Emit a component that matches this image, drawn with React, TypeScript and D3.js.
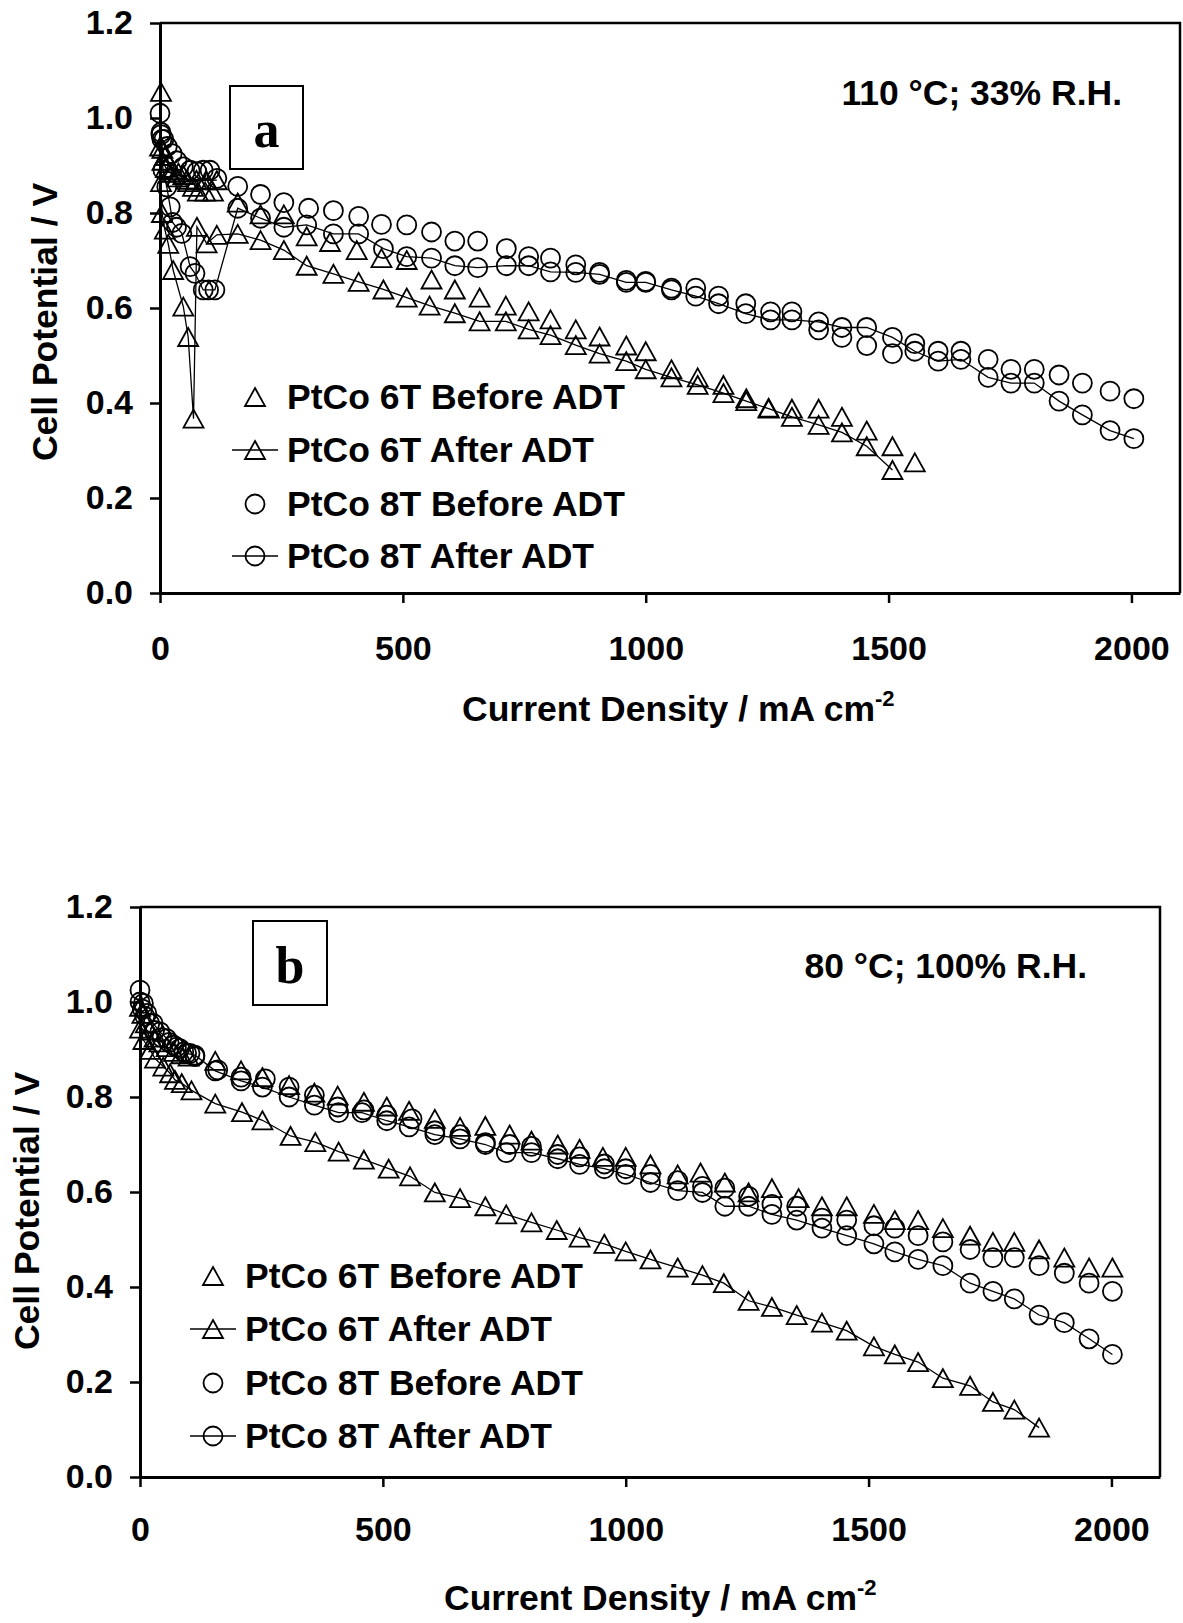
import * as d3 from 'd3'
import { useEffect, useRef } from 'react'

// [current density mA cm-2, cell potential V]
// panel a: 110 °C, 33% RH
const a6Before = [
  [2, 1.055], [5, 0.935], [10, 0.92], [18, 0.905], [27, 0.89], [38, 0.885], [48, 0.88], [58, 0.865], [68, 0.855], [78, 0.845], [93, 0.845], [109, 0.845],
  [160, 0.822], [207, 0.797], [255, 0.797], [302, 0.751], [350, 0.739], [405, 0.722], [456, 0.705], [508, 0.701], [559, 0.66], [607, 0.639],
  [658, 0.622], [712, 0.605], [759, 0.593], [804, 0.576], [856, 0.555], [905, 0.54], [960, 0.521], [1000, 0.509], [1053, 0.471], [1107, 0.454],
  [1160, 0.438], [1207, 0.41], [1253, 0.39], [1301, 0.388], [1356, 0.388], [1404, 0.371], [1455, 0.342], [1508, 0.309], [1554, 0.275],
]
const a6After = [
  [0, 0.94], [5, 0.91], [12, 0.895], [20, 0.885], [35, 0.875], [55, 0.87], [75, 0.87], [95, 0.869], [117, 0.869],
  [2, 0.865], [4, 0.8], [10, 0.765], [17, 0.735], [27, 0.68], [48, 0.603], [58, 0.539], [69, 0.367], [76, 0.771], [96, 0.736], [117, 0.754],
  [160, 0.756], [207, 0.743], [255, 0.722], [302, 0.689], [357, 0.672], [409, 0.655], [460, 0.639], [508, 0.622], [555, 0.605], [607, 0.589],
  [658, 0.572], [712, 0.572], [759, 0.555], [804, 0.543], [856, 0.522], [905, 0.504], [960, 0.488], [1000, 0.471], [1053, 0.454], [1107, 0.438],
  [1160, 0.421], [1207, 0.404], [1253, 0.388], [1301, 0.371], [1356, 0.354], [1404, 0.338], [1455, 0.309], [1508, 0.259],
]
const a8Before = [
  [2, 0.97], [8, 0.955], [15, 0.94], [25, 0.925], [35, 0.91], [48, 0.897], [62, 0.89], [76, 0.887], [89, 0.89], [103, 0.89], [117, 0.873],
  [160, 0.856], [207, 0.839], [255, 0.822], [306, 0.81], [357, 0.805], [409, 0.793], [456, 0.776], [508, 0.775], [559, 0.76], [607, 0.741],
  [654, 0.741], [713, 0.725], [759, 0.708], [804, 0.705], [856, 0.691], [905, 0.675], [960, 0.658], [1000, 0.656], [1053, 0.642], [1103, 0.642],
  [1150, 0.625], [1206, 0.609], [1257, 0.592], [1301, 0.592], [1356, 0.554], [1404, 0.538], [1455, 0.521], [1508, 0.504], [1554, 0.525],
  [1602, 0.509], [1649, 0.509], [1705, 0.492], [1752, 0.471], [1800, 0.471], [1851, 0.459], [1899, 0.442], [1956, 0.425], [2005, 0.409],
]
const a8After = [
  [0, 1.01], [2, 0.965], [4, 0.955], [6, 0.89], [14, 0.855], [21, 0.813], [26, 0.78], [34, 0.77], [45, 0.757], [62, 0.687], [72, 0.673],
  [89, 0.638], [100, 0.638], [113, 0.638],
  [160, 0.81], [207, 0.789], [255, 0.77], [302, 0.775], [357, 0.756], [409, 0.756], [460, 0.725], [508, 0.708], [559, 0.705], [607, 0.689],
  [654, 0.685], [713, 0.689], [759, 0.689], [804, 0.676], [856, 0.675], [905, 0.671], [960, 0.654], [1000, 0.654], [1053, 0.638], [1103, 0.625],
  [1150, 0.609], [1206, 0.588], [1257, 0.575], [1301, 0.575], [1356, 0.571], [1404, 0.559], [1455, 0.559], [1508, 0.538], [1554, 0.509],
  [1602, 0.488], [1649, 0.492], [1705, 0.454], [1752, 0.442], [1800, 0.442], [1851, 0.404], [1899, 0.375], [1956, 0.342], [2005, 0.325],
]

// panel b: 80 °C, 100% RH
const b6Before = [
  [0, 0.99], [5, 0.975], [12, 0.955], [20, 0.94], [30, 0.925], [40, 0.915], [55, 0.905], [70, 0.895], [85, 0.89], [100, 0.885],
  [155, 0.876], [208, 0.856], [252, 0.842], [307, 0.825], [359, 0.809], [407, 0.803], [461, 0.79], [508, 0.78], [554, 0.771], [607, 0.754],
  [659, 0.737], [711, 0.739], [761, 0.721], [806, 0.708], [860, 0.7], [905, 0.691], [953, 0.674], [1000, 0.674], [1051, 0.658], [1107, 0.637],
  [1154, 0.641], [1204, 0.62], [1253, 0.599], [1301, 0.608], [1356, 0.587], [1404, 0.57], [1455, 0.57], [1511, 0.554], [1554, 0.541],
  [1602, 0.541], [1653, 0.524], [1709, 0.508], [1756, 0.495], [1800, 0.495], [1851, 0.479], [1903, 0.462], [1954, 0.441], [2002, 0.441],
]
const b6After = [
  [0, 0.944], [7, 0.92], [21, 0.899], [31, 0.881], [48, 0.864], [62, 0.85], [72, 0.836], [86, 0.829], [106, 0.814], [155, 0.786], [210, 0.768],
  [252, 0.751], [310, 0.718], [361, 0.705], [409, 0.685], [461, 0.668], [512, 0.649], [556, 0.633], [607, 0.599], [659, 0.587], [711, 0.57],
  [754, 0.553], [806, 0.536], [858, 0.52], [905, 0.504], [956, 0.491], [1000, 0.475], [1051, 0.458], [1107, 0.441], [1158, 0.425], [1202, 0.408],
  [1253, 0.371], [1301, 0.358], [1352, 0.341], [1404, 0.325], [1455, 0.308], [1511, 0.275], [1554, 0.258], [1602, 0.242], [1653, 0.208],
  [1709, 0.192], [1756, 0.158], [1800, 0.142], [1851, 0.104],
]
const b8Before = [
  [0, 1.0], [5, 0.985], [10, 0.97], [20, 0.955], [30, 0.94], [45, 0.925], [60, 0.915], [75, 0.905], [90, 0.895], [103, 0.892], [113, 0.885],
  [160, 0.857], [208, 0.842], [258, 0.838], [307, 0.821], [359, 0.804], [407, 0.779], [461, 0.773], [508, 0.762], [560, 0.754], [607, 0.729],
  [659, 0.721], [711, 0.704], [761, 0.7], [806, 0.696], [860, 0.679], [905, 0.674], [956, 0.659], [1000, 0.649], [1051, 0.637], [1107, 0.624],
  [1158, 0.612], [1204, 0.608], [1253, 0.591], [1301, 0.574], [1352, 0.57], [1404, 0.545], [1455, 0.541], [1511, 0.529], [1554, 0.524],
  [1602, 0.508], [1653, 0.495], [1709, 0.479], [1756, 0.462], [1800, 0.462], [1851, 0.445], [1903, 0.429], [1954, 0.408], [2002, 0.391],
]
const b8After = [
  [0, 1.025], [7, 0.997], [14, 0.976], [27, 0.955], [41, 0.937], [55, 0.923], [69, 0.909], [82, 0.902], [96, 0.892], [113, 0.888], [155, 0.855],
  [208, 0.834], [252, 0.821], [307, 0.8], [359, 0.783], [409, 0.767], [457, 0.767], [508, 0.75], [554, 0.737], [607, 0.721], [659, 0.712],
  [711, 0.7], [754, 0.683], [806, 0.683], [860, 0.67], [905, 0.658], [956, 0.649], [1000, 0.637], [1051, 0.62], [1107, 0.603], [1158, 0.599],
  [1204, 0.57], [1253, 0.57], [1301, 0.553], [1352, 0.541], [1404, 0.524], [1455, 0.508], [1511, 0.491], [1554, 0.474], [1602, 0.458],
  [1653, 0.445], [1709, 0.408], [1756, 0.391], [1800, 0.375], [1851, 0.341], [1903, 0.325], [1954, 0.291], [2002, 0.258],
]

const xTicks = [0, 500, 1000, 1500, 2000]
const yTicks = [0, 0.2, 0.4, 0.6, 0.8, 1.0, 1.2]
const legendLabels = ['PtCo 6T Before ADT', 'PtCo 6T After ADT', 'PtCo 8T Before ADT', 'PtCo 8T After ADT']

const FONT = 'Liberation Sans, Arial, sans-serif'
const SERIF = 'Liberation Serif, Times New Roman, serif'
const TRI = 'M0,-9L10,9L-10,9Z'

const panels = [
  {
    left: 160, right: 1180, top: 23, bottom: 593, tickPad: 33, titleX: 462, titleY: 721, yTitleX: 57, yTitleY: 322,
    box: [230, 86, 73, 83], letter: 'a', note: '110 °C; 33% R.H.', noteX: 1122, noteY: 105,
    legX: 255, legText: 287, legY: [409, 462, 516, 568],
    series: [a6Before, a6After, a8Before, a8After],
  },
  {
    left: 140, right: 1160, top: 907, bottom: 1477, tickPad: 30, titleX: 444, titleY: 1610, yTitleX: 39, yTitleY: 1211,
    box: [253, 921, 74, 84], letter: 'b', note: '80 °C; 100% R.H.', noteX: 1087, noteY: 978,
    legX: 213, legText: 245, legY: [1288, 1341, 1395, 1448],
    series: [b6Before, b6After, b8Before, b8After],
  },
]

const drawMarker = (g, shape, cx, cy) => {
  if (shape === 'tri') {
    g.append('path').attr('d', TRI).attr('transform', `translate(${cx},${cy})`)
      .attr('fill', 'none').attr('stroke', '#000').attr('stroke-width', 1.8)
  } else {
    g.append('circle').attr('cx', cx).attr('cy', cy).attr('r', 9.5)
      .attr('fill', 'none').attr('stroke', '#000').attr('stroke-width', 1.8)
  }
}

const App = () => {
  const svgRef = useRef(null)

  useEffect(() => {
    const svg = d3.select(svgRef.current).html('')

    panels.forEach(p => {
      const x = d3.scaleLinear().domain([0, 2100]).range([p.left, p.right])
      const y = d3.scaleLinear().domain([0, 1.2]).range([p.bottom, p.top])
      const g = svg.append('g')

      // top and right frame
      g.append('path').attr('d', `M${p.left},${p.top}H${p.right}V${p.bottom}`)
        .attr('fill', 'none').attr('stroke', '#000').attr('stroke-width', 2.5)

      const gy = g.append('g').attr('transform', `translate(${p.left},0)`)
        .call(d3.axisLeft(y).tickValues(yTicks).tickSize(10).tickSizeOuter(0).tickPadding(17).tickFormat(d3.format('.1f')))
      const gx = g.append('g').attr('transform', `translate(0,${p.bottom})`)
        .call(d3.axisBottom(x).tickValues(xTicks).tickSize(10).tickSizeOuter(0).tickPadding(p.tickPad).tickFormat(d3.format('d')))
      ;[gy, gx].forEach(a => {
        a.attr('font-size', 34).attr('font-family', FONT).attr('font-weight', 'bold')
        a.select('.domain').attr('stroke-width', 3)
        a.selectAll('.tick line').attr('stroke-width', 2.5)
        a.selectAll('.tick text').attr('fill', '#000')
      })

      // axis titles
      const xt = g.append('text').attr('x', p.titleX).attr('y', p.titleY)
        .attr('font-family', FONT).attr('font-weight', 'bold').attr('font-size', 35.5)
      xt.append('tspan').text('Current Density / mA cm')
      xt.append('tspan').attr('dy', -15).attr('font-size', 22).text('-2')

      g.append('text').attr('transform', `translate(${p.yTitleX},${p.yTitleY}) rotate(-90)`)
        .attr('text-anchor', 'middle').attr('font-family', FONT).attr('font-weight', 'bold').attr('font-size', 35.5)
        .text('Cell Potential / V')

      // panel letter box
      const [bx, by, bw, bh] = p.box
      g.append('rect').attr('x', bx).attr('y', by).attr('width', bw).attr('height', bh)
        .attr('fill', 'none').attr('stroke', '#000').attr('stroke-width', 2)
      g.append('text').attr('x', bx + bw / 2).attr('y', by + bh * 0.74).attr('text-anchor', 'middle')
        .attr('font-family', SERIF).attr('font-weight', 'bold').attr('font-size', 52).text(p.letter)

      g.append('text').attr('x', p.noteX).attr('y', p.noteY).attr('text-anchor', 'end')
        .attr('font-family', FONT).attr('font-weight', 'bold').attr('font-size', 35.5).text(p.note)

      // series
      const line = d3.line().x(d => x(d[0])).y(d => y(d[1]))
      p.series.forEach((data, i) => {
        const shape = i < 2 ? 'tri' : 'circ'
        const withLine = i % 2 === 1
        const sg = g.append('g')
        if (withLine) {
          sg.append('path').attr('d', line(data)).attr('fill', 'none').attr('stroke', '#000').attr('stroke-width', 1.3)
        }
        data.forEach(d => drawMarker(sg, shape, x(d[0]), y(d[1])))
      })

      // legend
      legendLabels.forEach((label, i) => {
        const cy = p.legY[i] - 12
        const lg = g.append('g')
        if (i % 2 === 1) {
          lg.append('line').attr('x1', p.legX - 23).attr('x2', p.legX + 23).attr('y1', cy).attr('y2', cy)
            .attr('stroke', '#000').attr('stroke-width', 1.3)
        }
        drawMarker(lg, i < 2 ? 'tri' : 'circ', p.legX, cy)
        lg.append('text').attr('x', p.legText).attr('y', p.legY[i])
          .attr('font-family', FONT).attr('font-weight', 'bold').attr('font-size', 35.5).text(label)
      })
    })
  }, [])

  return (
    <svg ref={svgRef} width={1183} height={1623}
      style={{ position: 'absolute', left: 0, top: 0, background: '#fff' }} />
  )
}

export default App
